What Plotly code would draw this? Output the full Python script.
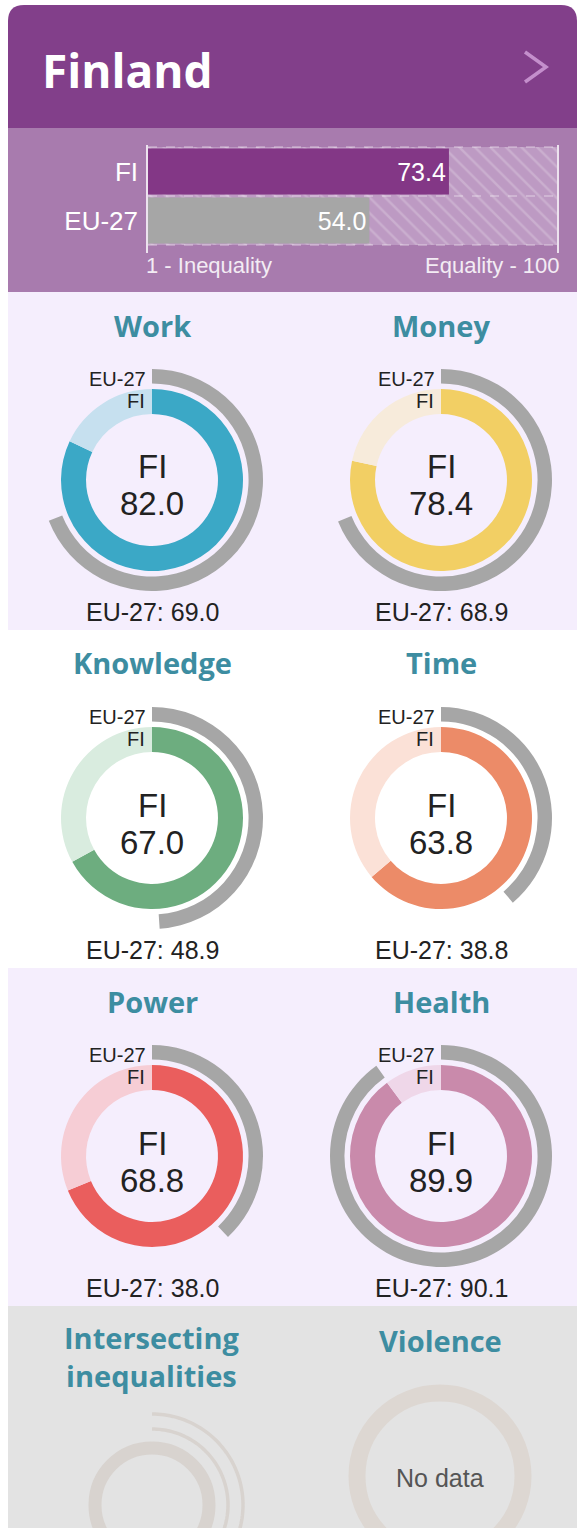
import numpy as np
import plotly.graph_objects as go

W, H = 577, 1528

# ---------------- data ----------------
country = "Finland"
overall_labels = ["FI", "EU-27"]
overall_values = [73.4, 54.0]

domains = ["Work", "Money", "Knowledge", "Time", "Power", "Health"]
fi_scores = [82.0, 78.4, 67.0, 63.8, 68.8, 89.9]
eu_scores = [69.0, 68.9, 48.9, 38.8, 38.0, 90.1]
dark_colors = ["#3ba8c6", "#f2cf64", "#6dad7f", "#ec8b68", "#ea5e5d", "#c98aab"]
light_colors = ["#c6e0ef", "#f7ebdb", "#d9ecdf", "#fbe1d7", "#f6cdd5", "#efd7e9"]
extra_titles = ["Intersecting<br>inequalities", "Violence"]


def X(px):
    return px / W


def Y(py):
    return 1 - py / H


fig = go.Figure()
shapes = []
annotations = []

# ---------------- backgrounds ----------------
L, R = 8, 577
r = 16
hdr_top, hdr_bot = 5, 128
path = (f"M {X(L)},{Y(hdr_bot)} L {X(L)},{Y(hdr_top + r)} "
        f"Q {X(L)},{Y(hdr_top)} {X(L + r)},{Y(hdr_top)} "
        f"L {X(R - r)},{Y(hdr_top)} Q {X(R)},{Y(hdr_top)} {X(R)},{Y(hdr_top + r)} "
        f"L {X(R)},{Y(hdr_bot)} Z")
shapes.append(dict(type="path", path=path, xref="paper", yref="paper",
                   fillcolor="#823f8a", line=dict(width=0), layer="below"))

bands = [(128, 292, "#a87bae"), (292, 630, "#f5eefd"), (630, 968, "#ffffff"),
         (968, 1306, "#f5eefd"), (1306, 1540, "#e3e3e3")]
for y0, y1, c in bands:
    shapes.append(dict(type="rect", xref="paper", yref="paper", x0=X(L), x1=X(R + 5),
                       y0=Y(y1), y1=Y(y0), fillcolor=c, line=dict(width=0), layer="below"))

# arrow
shapes.append(dict(type="path", xref="paper", yref="paper",
                   path=f"M {X(525)},{Y(52)} L {X(546)},{Y(67)} L {X(525)},{Y(82)}",
                   line=dict(color="#c48fcc", width=3.5), layer="above"))

annotations.append(dict(text=f"<b>{country}</b>", x=X(40), y=Y(70), xref="paper", yref="paper",
                        xanchor="left", yanchor="middle", showarrow=False,
                        font=dict(family="Open Sans", size=46, color="white")))

# ---------------- overall bar ----------------
bx0, bx1 = 148, 558
by0, by1 = 147, 245
fig.add_trace(go.Bar(
    y=overall_labels, x=[100] * len(overall_labels), orientation="h", width=1.0,
    marker=dict(color="#bd9ac3", line=dict(width=0),
                pattern=dict(shape="\\", fgcolor="#d8c3dc", bgcolor="#bd9ac3", size=11, solidity=0.22)),
    hoverinfo="skip", showlegend=False, xaxis="x", yaxis="y"))
fig.add_trace(go.Bar(
    y=overall_labels, x=overall_values, orientation="h", width=0.94,
    marker=dict(color=["#833786", "#a6a6a6"], line=dict(width=0)),
    text=[f"{v:.1f}" for v in overall_values], textposition="inside", insidetextanchor="end",
    textfont=dict(family="Liberation Sans", size=25, color="white"),
    hoverinfo="skip", showlegend=False, xaxis="x", yaxis="y"))

for yy in [by0, (by0 + by1) / 2, by1]:
    shapes.append(dict(type="line", xref="paper", yref="paper", x0=X(bx0), x1=X(bx1),
                       y0=Y(yy), y1=Y(yy), line=dict(color="rgba(255,255,255,0.55)", width=1, dash="dash")))
for xx in [bx0 - 1, bx1]:
    shapes.append(dict(type="line", xref="paper", yref="paper", x0=X(xx), x1=X(xx),
                       y0=Y(by0 - 2), y1=Y(by1 + 8), line=dict(color="#ece2ee", width=2)))

annotations.append(dict(text="1 - Inequality", x=X(144), y=Y(265), xref="paper", yref="paper",
                        xanchor="left", yanchor="middle", showarrow=False,
                        font=dict(family="Liberation Sans", size=22, color="#f3ecf4")))
annotations.append(dict(text="Equality - 100", x=X(562), y=Y(265), xref="paper", yref="paper",
                        xanchor="right", yanchor="middle", showarrow=False,
                        font=dict(family="Liberation Sans", size=22, color="#f3ecf4")))

# ---------------- domain donuts ----------------
col_x = [152, 441]
row_y = [480, 818, 1156]
R_out, R_in = 111, 91
title_font = dict(family="Open Sans", size=29, color="#3d8da1")
txt = "#222222"

for i, name in enumerate(domains):
    cx = col_x[i % 2]
    cy = row_y[i // 2]
    fi, eu = fi_scores[i], eu_scores[i]
    fig.add_trace(go.Pie(
        values=[eu, 100 - eu], marker=dict(colors=["#a6a6a6", "rgba(0,0,0,0)"], line=dict(width=0)),
        hole=0.87, sort=False, direction="clockwise", rotation=0, textinfo="none",
        hoverinfo="skip", showlegend=False,
        domain=dict(x=[X(cx - R_out), X(cx + R_out)], y=[Y(cy + R_out), Y(cy - R_out)])))
    fig.add_trace(go.Pie(
        values=[fi, 100 - fi], marker=dict(colors=[dark_colors[i], light_colors[i]], line=dict(width=0)),
        hole=0.725, sort=False, direction="clockwise", rotation=0, textinfo="none",
        hoverinfo="skip", showlegend=False,
        domain=dict(x=[X(cx - R_in), X(cx + R_in)], y=[Y(cy + R_in), Y(cy - R_in)])))
    annotations += [
        dict(text=f"<b>{name}</b>", x=X(cx), y=Y(cy - 155), font=title_font),
        dict(text="EU-27", x=X(cx - 4), y=Y(cy - 101), xanchor="right",
             font=dict(family="Liberation Sans", size=20, color=txt)),
        dict(text="FI", x=X(cx - 5), y=Y(cy - 79), xanchor="right",
             font=dict(family="Liberation Sans", size=20, color=txt)),
        dict(text="FI", x=X(cx), y=Y(cy - 13),
             font=dict(family="Liberation Sans", size=33, color=txt)),
        dict(text=f"{fi:.1f}", x=X(cx), y=Y(cy + 24),
             font=dict(family="Liberation Sans", size=33, color=txt)),
        dict(text=f"EU-27: {eu:.1f}", x=X(cx), y=Y(cy + 132),
             font=dict(family="Liberation Sans", size=25, color=txt)),
    ]

# ---------------- bottom (no data) ----------------
annotations.append(dict(text=f"<b>{extra_titles[0]}</b>", x=X(152), y=Y(1356), font=title_font))
annotations.append(dict(text=f"<b>{extra_titles[1]}</b>", x=X(440), y=Y(1340), font=title_font))
annotations.append(dict(text="No data", x=X(440), y=Y(1478),
                        font=dict(family="Liberation Sans", size=25, color="#555555")))

ring_c = "#d8d3cf"
# intersecting: ring + two thin arcs
icx, icy = 152, 1505
shapes.append(dict(type="circle", xref="paper", yref="paper",
                   x0=X(icx - 57), x1=X(icx + 57), y0=Y(icy + 57), y1=Y(icy - 57),
                   line=dict(color=ring_c, width=13)))
for rad in [76, 91]:
    th = np.linspace(0, np.pi * 0.62, 60)
    pts = [(icx + rad * np.sin(t), icy - rad * np.cos(t)) for t in th]
    p = "M " + " L ".join(f"{X(a):.5f},{Y(b):.5f}" for a, b in pts)
    shapes.append(dict(type="path", xref="paper", yref="paper", path=p,
                       line=dict(color=ring_c, width=3.5)))
# violence ring
vcx, vcy = 440, 1476
shapes.append(dict(type="circle", xref="paper", yref="paper",
                   x0=X(vcx - 83), x1=X(vcx + 83), y0=Y(vcy + 83), y1=Y(vcy - 83),
                   line=dict(color="#ddd7d2", width=17)))

for a in annotations:
    a.setdefault("xref", "paper")
    a.setdefault("yref", "paper")
    a.setdefault("showarrow", False)
    a.setdefault("xanchor", "center")
    a.setdefault("yanchor", "middle")

fig.update_layout(
    width=W, height=H, margin=dict(l=0, r=0, t=0, b=0),
    paper_bgcolor="white", plot_bgcolor="rgba(0,0,0,0)",
    barmode="overlay",
    xaxis=dict(domain=[X(bx0), X(bx1)], range=[0, 100], visible=False, fixedrange=True),
    yaxis=dict(domain=[Y(by1), Y(by0)], categoryorder="array", categoryarray=overall_labels,
               autorange="reversed", showgrid=False, zeroline=False, showline=False,
               ticks="", tickfont=dict(family="Liberation Sans", size=26, color="white"),
               ticklabelstandoff=9, fixedrange=True),
    shapes=shapes, annotations=annotations,
)

fig.write_html("out.html", config={"displayModeBar": False},
               post_script="document.body.style.margin='0';document.body.style.padding='0';")
